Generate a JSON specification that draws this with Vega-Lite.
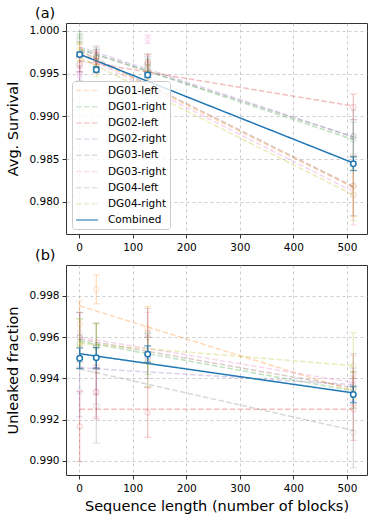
{
  "$schema": "https://vega.github.io/schema/vega-lite/v6.json",
  "padding": {"left": 5, "top": 5, "right": 7, "bottom": 5},
  "bounds": "flush",
  "spacing": 31,
  "config": {
    "font": "DejaVu Sans",
    "view": {"stroke": "#333333", "strokeWidth": 1},
    "title": {"font": "DejaVu Sans", "fontSize": 14.5, "fontWeight": "normal", "anchor": "start", "frame": "group", "color": "#000000"},
    "axis": {
      "labelFont": "DejaVu Sans", "labelFontSize": 10.5, "labelColor": "#000000",
      "titleFont": "DejaVu Sans", "titleFontSize": 14.5, "titleFontWeight": "normal", "titleColor": "#000000",
      "gridColor": "#b0b0b0", "gridDash": [3, 3], "gridOpacity": 0.8, "gridWidth": 0.8,
      "tickColor": "#333333", "tickSize": 4, "domain": false, "labelPadding": 3
    },
    "axisX": {"labelPadding": 4},
    "legend": {
      "fillColor": "rgba(255,255,255,0.8)", "strokeColor": "#cccccc", "cornerRadius": 3,
      "padding": 3, "labelFont": "DejaVu Sans", "labelFontSize": 10.5, "labelColor": "#000000",
      "symbolStrokeWidth": 1.5
    }
  },
  "datasets": {
    "pts": [
      {"p": "a", "s": "DG01-left", "x": 1, "y": 0.9978, "lo": 0.9970, "hi": 0.9986},
      {"p": "a", "s": "DG01-left", "x": 32, "y": 0.9962, "lo": 0.9950, "hi": 0.9974},
      {"p": "a", "s": "DG01-left", "x": 128, "y": 0.9953, "lo": 0.9943, "hi": 0.9963},
      {"p": "a", "s": "DG01-left", "x": 512, "y": 0.9818, "lo": 0.9783, "hi": 0.9853},
      {"p": "a", "s": "DG01-right", "x": 1, "y": 0.9993, "lo": 0.9987, "hi": 0.9999},
      {"p": "a", "s": "DG01-right", "x": 32, "y": 0.9968, "lo": 0.9958, "hi": 0.9978},
      {"p": "a", "s": "DG01-right", "x": 128, "y": 0.9958, "lo": 0.9948, "hi": 0.9968},
      {"p": "a", "s": "DG01-right", "x": 512, "y": 0.9873, "lo": 0.9853, "hi": 0.9893},
      {"p": "a", "s": "DG02-left", "x": 1, "y": 0.9960, "lo": 0.9952, "hi": 0.9968},
      {"p": "a", "s": "DG02-left", "x": 32, "y": 0.9966, "lo": 0.9956, "hi": 0.9976},
      {"p": "a", "s": "DG02-left", "x": 128, "y": 0.9962, "lo": 0.9952, "hi": 0.9972},
      {"p": "a", "s": "DG02-left", "x": 512, "y": 0.9911, "lo": 0.9896, "hi": 0.9926},
      {"p": "a", "s": "DG02-right", "x": 1, "y": 0.9950, "lo": 0.9942, "hi": 0.9958},
      {"p": "a", "s": "DG02-right", "x": 32, "y": 0.9970, "lo": 0.9960, "hi": 0.9980},
      {"p": "a", "s": "DG02-right", "x": 128, "y": 0.9960, "lo": 0.9950, "hi": 0.9970},
      {"p": "a", "s": "DG02-right", "x": 512, "y": 0.9876, "lo": 0.9856, "hi": 0.9896},
      {"p": "a", "s": "DG03-left", "x": 1, "y": 0.9962, "lo": 0.9952, "hi": 0.9972},
      {"p": "a", "s": "DG03-left", "x": 32, "y": 0.9970, "lo": 0.9958, "hi": 0.9982},
      {"p": "a", "s": "DG03-left", "x": 128, "y": 0.9963, "lo": 0.9953, "hi": 0.9973},
      {"p": "a", "s": "DG03-left", "x": 512, "y": 0.9819, "lo": 0.9784, "hi": 0.9854},
      {"p": "a", "s": "DG03-right", "x": 1, "y": 0.9948, "lo": 0.9940, "hi": 0.9956},
      {"p": "a", "s": "DG03-right", "x": 32, "y": 0.9965, "lo": 0.9955, "hi": 0.9975},
      {"p": "a", "s": "DG03-right", "x": 128, "y": 0.9990, "lo": 0.9985, "hi": 0.9995},
      {"p": "a", "s": "DG03-right", "x": 512, "y": 0.9808, "lo": 0.9773, "hi": 0.9843},
      {"p": "a", "s": "DG04-left", "x": 1, "y": 0.9990, "lo": 0.9984, "hi": 0.9996},
      {"p": "a", "s": "DG04-left", "x": 32, "y": 0.9968, "lo": 0.9958, "hi": 0.9978},
      {"p": "a", "s": "DG04-left", "x": 128, "y": 0.9956, "lo": 0.9946, "hi": 0.9966},
      {"p": "a", "s": "DG04-left", "x": 512, "y": 0.9877, "lo": 0.9847, "hi": 0.9907},
      {"p": "a", "s": "DG04-right", "x": 1, "y": 0.9975, "lo": 0.9965, "hi": 0.9985},
      {"p": "a", "s": "DG04-right", "x": 32, "y": 0.9958, "lo": 0.9946, "hi": 0.9970},
      {"p": "a", "s": "DG04-right", "x": 128, "y": 0.9950, "lo": 0.9940, "hi": 0.9960},
      {"p": "a", "s": "DG04-right", "x": 512, "y": 0.9808, "lo": 0.9778, "hi": 0.9838},
      {"p": "a", "s": "Combined", "x": 1, "y": 0.99722, "lo": 0.99697, "hi": 0.99747},
      {"p": "a", "s": "Combined", "x": 32, "y": 0.99545, "lo": 0.99515, "hi": 0.99575},
      {"p": "a", "s": "Combined", "x": 128, "y": 0.99482, "lo": 0.99452, "hi": 0.99512},
      {"p": "a", "s": "Combined", "x": 512, "y": 0.98446, "lo": 0.98366, "hi": 0.98526},
      {"p": "b", "s": "DG01-left", "x": 1, "y": 0.99666, "lo": 0.99556, "hi": 0.99776},
      {"p": "b", "s": "DG01-left", "x": 32, "y": 0.99832, "lo": 0.99762, "hi": 0.99902},
      {"p": "b", "s": "DG01-left", "x": 128, "y": 0.99640, "lo": 0.99530, "hi": 0.99750},
      {"p": "b", "s": "DG01-left", "x": 512, "y": 0.99350, "lo": 0.99270, "hi": 0.99430},
      {"p": "b", "s": "DG01-right", "x": 1, "y": 0.99570, "lo": 0.99450, "hi": 0.99690},
      {"p": "b", "s": "DG01-right", "x": 32, "y": 0.99555, "lo": 0.99445, "hi": 0.99665},
      {"p": "b", "s": "DG01-right", "x": 128, "y": 0.99520, "lo": 0.99420, "hi": 0.99620},
      {"p": "b", "s": "DG01-right", "x": 512, "y": 0.99345, "lo": 0.99255, "hi": 0.99435},
      {"p": "b", "s": "DG02-left", "x": 1, "y": 0.99167, "lo": 0.98997, "hi": 0.99337},
      {"p": "b", "s": "DG02-left", "x": 32, "y": 0.99335, "lo": 0.99205, "hi": 0.99465},
      {"p": "b", "s": "DG02-left", "x": 128, "y": 0.99235, "lo": 0.99115, "hi": 0.99355},
      {"p": "b", "s": "DG02-left", "x": 512, "y": 0.99250, "lo": 0.99100, "hi": 0.99400},
      {"p": "b", "s": "DG02-right", "x": 1, "y": 0.99335, "lo": 0.99215, "hi": 0.99455},
      {"p": "b", "s": "DG02-right", "x": 32, "y": 0.99440, "lo": 0.99320, "hi": 0.99560},
      {"p": "b", "s": "DG02-right", "x": 128, "y": 0.99500, "lo": 0.99400, "hi": 0.99600},
      {"p": "b", "s": "DG02-right", "x": 512, "y": 0.99370, "lo": 0.99290, "hi": 0.99450},
      {"p": "b", "s": "DG03-left", "x": 1, "y": 0.99600, "lo": 0.99480, "hi": 0.99720},
      {"p": "b", "s": "DG03-left", "x": 32, "y": 0.99560, "lo": 0.99450, "hi": 0.99670},
      {"p": "b", "s": "DG03-left", "x": 128, "y": 0.99620, "lo": 0.99500, "hi": 0.99740},
      {"p": "b", "s": "DG03-left", "x": 512, "y": 0.99420, "lo": 0.99320, "hi": 0.99520},
      {"p": "b", "s": "DG03-right", "x": 1, "y": 0.99620, "lo": 0.99520, "hi": 0.99720},
      {"p": "b", "s": "DG03-right", "x": 32, "y": 0.99335, "lo": 0.99215, "hi": 0.99455},
      {"p": "b", "s": "DG03-right", "x": 128, "y": 0.99600, "lo": 0.99480, "hi": 0.99720},
      {"p": "b", "s": "DG03-right", "x": 512, "y": 0.99390, "lo": 0.99270, "hi": 0.99510},
      {"p": "b", "s": "DG04-left", "x": 1, "y": 0.99600, "lo": 0.99480, "hi": 0.99720},
      {"p": "b", "s": "DG04-left", "x": 32, "y": 0.99267, "lo": 0.99087, "hi": 0.99447},
      {"p": "b", "s": "DG04-left", "x": 128, "y": 0.99480, "lo": 0.99360, "hi": 0.99600},
      {"p": "b", "s": "DG04-left", "x": 512, "y": 0.99137, "lo": 0.98967, "hi": 0.99307},
      {"p": "b", "s": "DG04-right", "x": 1, "y": 0.99566, "lo": 0.99446, "hi": 0.99686},
      {"p": "b", "s": "DG04-right", "x": 32, "y": 0.99545, "lo": 0.99425, "hi": 0.99665},
      {"p": "b", "s": "DG04-right", "x": 128, "y": 0.99480, "lo": 0.99360, "hi": 0.99600},
      {"p": "b", "s": "DG04-right", "x": 512, "y": 0.99462, "lo": 0.99302, "hi": 0.99622},
      {"p": "b", "s": "Combined", "x": 1, "y": 0.99498, "lo": 0.99448, "hi": 0.99548},
      {"p": "b", "s": "Combined", "x": 32, "y": 0.99500, "lo": 0.99450, "hi": 0.99550},
      {"p": "b", "s": "Combined", "x": 128, "y": 0.99518, "lo": 0.99478, "hi": 0.99558},
      {"p": "b", "s": "Combined", "x": 512, "y": 0.99322, "lo": 0.99282, "hi": 0.99362}
    ],
    "fit": [
      {"p": "a", "s": "DG01-left", "x": 1, "y": 0.9975}, {"p": "a", "s": "DG01-left", "x": 512, "y": 0.9817},
      {"p": "a", "s": "DG01-right", "x": 1, "y": 0.9979}, {"p": "a", "s": "DG01-right", "x": 512, "y": 0.9873},
      {"p": "a", "s": "DG02-left", "x": 1, "y": 0.99648}, {"p": "a", "s": "DG02-left", "x": 512, "y": 0.9912},
      {"p": "a", "s": "DG02-right", "x": 1, "y": 0.9981}, {"p": "a", "s": "DG02-right", "x": 512, "y": 0.9876},
      {"p": "a", "s": "DG03-left", "x": 1, "y": 0.9977}, {"p": "a", "s": "DG03-left", "x": 512, "y": 0.9818},
      {"p": "a", "s": "DG03-right", "x": 1, "y": 0.9973}, {"p": "a", "s": "DG03-right", "x": 512, "y": 0.9812},
      {"p": "a", "s": "DG04-left", "x": 1, "y": 0.9978}, {"p": "a", "s": "DG04-left", "x": 512, "y": 0.9876},
      {"p": "a", "s": "DG04-right", "x": 1, "y": 0.9969}, {"p": "a", "s": "DG04-right", "x": 512, "y": 0.9808},
      {"p": "a", "s": "Combined", "x": 1, "y": 0.99725}, {"p": "a", "s": "Combined", "x": 512, "y": 0.98455},
      {"p": "b", "s": "DG01-left", "x": 1, "y": 0.99752}, {"p": "b", "s": "DG01-left", "x": 512, "y": 0.9934},
      {"p": "b", "s": "DG01-right", "x": 1, "y": 0.9958}, {"p": "b", "s": "DG01-right", "x": 512, "y": 0.9934},
      {"p": "b", "s": "DG02-left", "x": 1, "y": 0.99251}, {"p": "b", "s": "DG02-left", "x": 512, "y": 0.99251},
      {"p": "b", "s": "DG02-right", "x": 1, "y": 0.99452}, {"p": "b", "s": "DG02-right", "x": 512, "y": 0.9937},
      {"p": "b", "s": "DG03-left", "x": 1, "y": 0.9959}, {"p": "b", "s": "DG03-left", "x": 512, "y": 0.99355},
      {"p": "b", "s": "DG03-right", "x": 1, "y": 0.9960}, {"p": "b", "s": "DG03-right", "x": 512, "y": 0.9938},
      {"p": "b", "s": "DG04-left", "x": 1, "y": 0.99446}, {"p": "b", "s": "DG04-left", "x": 512, "y": 0.99148},
      {"p": "b", "s": "DG04-right", "x": 1, "y": 0.9957}, {"p": "b", "s": "DG04-right", "x": 512, "y": 0.99462},
      {"p": "b", "s": "Combined", "x": 1, "y": 0.9952}, {"p": "b", "s": "Combined", "x": 512, "y": 0.9933}
    ]
  },
  "resolve": {"scale": {"color": "independent", "strokeDash": "independent"}},
  "vconcat": [
    {
      "title": {"text": "(a)", "dx": -31, "offset": 2},
      "width": 301, "height": 211,
      "layer": [
        {
          "data": {"name": "pts"}, "transform": [{"filter": "datum.p == 'a'"}],
          "mark": {"type": "rule", "strokeWidth": 1.2},
          "encoding": {
            "x": {"field": "x", "type": "quantitative", "scale": {"domain": [-24.55, 537.55], "nice": false, "zero": false}, "axis": {"title": null, "values": [0, 100, 200, 300, 400, 500]}},
            "y": {"field": "lo", "type": "quantitative", "scale": {"domain": [0.97625, 1.0009], "nice": false, "zero": false}, "axis": {"title": "Avg. Survival", "values": [0.98, 0.985, 0.99, 0.995, 1.0], "format": ".3f", "titlePadding": 8}},
            "y2": {"field": "hi"},
            "color": {"field": "s", "type": "nominal", "scale": {"domain": ["DG01-left", "DG01-right", "DG02-left", "DG02-right", "DG03-left", "DG03-right", "DG04-left", "DG04-right", "Combined"], "range": ["rgba(255,127,14,0.3)", "rgba(44,160,44,0.3)", "rgba(214,39,40,0.3)", "rgba(148,103,189,0.3)", "rgba(140,86,75,0.3)", "rgba(227,119,194,0.3)", "rgba(127,127,127,0.3)", "rgba(188,189,34,0.3)", "#1f77b4"]}}
          }
        },
        {
          "data": {"name": "pts"}, "transform": [{"filter": "datum.p == 'a'"}],
          "mark": {"type": "tick", "orient": "horizontal", "size": 7, "thickness": 1.2},
          "encoding": {
            "x": {"field": "x", "type": "quantitative"},
            "y": {"field": "lo", "type": "quantitative"},
            "color": {"field": "s", "type": "nominal"}
          }
        },
        {
          "data": {"name": "pts"}, "transform": [{"filter": "datum.p == 'a'"}],
          "mark": {"type": "tick", "orient": "horizontal", "size": 7, "thickness": 1.2},
          "encoding": {
            "x": {"field": "x", "type": "quantitative"},
            "y": {"field": "hi", "type": "quantitative"},
            "color": {"field": "s", "type": "nominal"}
          }
        },
        {
          "data": {"name": "fit"}, "transform": [{"filter": "datum.p == 'a'"}],
          "mark": {"type": "line", "strokeWidth": 1.5},
          "encoding": {
            "x": {"field": "x", "type": "quantitative"},
            "y": {"field": "y", "type": "quantitative"},
            "color": {"field": "s", "type": "nominal", "legend": {"title": null, "orient": "none", "legendX": 6, "legendY": 58, "symbolType": "M-2,0L2,0", "symbolSize": 121, "rowPadding": 4.2, "labelOffset": 14.5, "symbolOffset": 5.5, "symbolStrokeWidth": 1.5}},
            "strokeDash": {"field": "s", "type": "nominal", "legend": {"title": null, "orient": "none", "legendX": 6, "legendY": 58, "symbolType": "M-2,0L2,0", "symbolSize": 121, "rowPadding": 4.2, "labelOffset": 14.5, "symbolOffset": 5.5, "symbolStrokeWidth": 1.5}, "scale": {"domain": ["DG01-left", "DG01-right", "DG02-left", "DG02-right", "DG03-left", "DG03-right", "DG04-left", "DG04-right", "Combined"], "range": [[5.5, 2.4], [5.5, 2.4], [5.5, 2.4], [5.5, 2.4], [5.5, 2.4], [5.5, 2.4], [5.5, 2.4], [5.5, 2.4], [1, 0]]}}
          }
        },
        {
          "data": {"name": "pts"}, "transform": [{"filter": "datum.p == 'a' && datum.s != 'Combined'"}],
          "mark": {"type": "point", "filled": false, "size": 30, "strokeWidth": 1},
          "encoding": {
            "x": {"field": "x", "type": "quantitative"},
            "y": {"field": "y", "type": "quantitative"},
            "color": {"field": "s", "type": "nominal"}
          }
        },
        {
          "data": {"name": "pts"}, "transform": [{"filter": "datum.p == 'a' && datum.s == 'Combined'"}],
          "mark": {"type": "point", "filled": false, "fill": "white", "fillOpacity": 1, "size": 30, "strokeWidth": 1.5, "opacity": 1, "stroke": "#1f77b4"},
          "encoding": {
            "x": {"field": "x", "type": "quantitative"},
            "y": {"field": "y", "type": "quantitative"}
          }
        }
      ]
    },
    {
      "title": {"text": "(b)", "dx": -31, "offset": 2},
      "width": 301, "height": 210,
      "layer": [
        {
          "data": {"name": "pts"}, "transform": [{"filter": "datum.p == 'b'"}],
          "mark": {"type": "rule", "strokeWidth": 1.2},
          "encoding": {
            "x": {"field": "x", "type": "quantitative", "scale": {"domain": [-24.55, 537.55], "nice": false, "zero": false}, "axis": {"title": "Sequence length (number of blocks)", "values": [0, 100, 200, 300, 400, 500], "titlePadding": 6}},
            "y": {"field": "lo", "type": "quantitative", "scale": {"domain": [0.98932, 0.9995], "nice": false, "zero": false}, "axis": {"title": "Unleaked fraction", "values": [0.99, 0.992, 0.994, 0.996, 0.998], "format": ".3f", "titlePadding": 8}},
            "y2": {"field": "hi"},
            "color": {"field": "s", "type": "nominal", "legend": null, "scale": {"domain": ["DG01-left", "DG01-right", "DG02-left", "DG02-right", "DG03-left", "DG03-right", "DG04-left", "DG04-right", "Combined"], "range": ["rgba(255,127,14,0.3)", "rgba(44,160,44,0.3)", "rgba(214,39,40,0.3)", "rgba(148,103,189,0.3)", "rgba(140,86,75,0.3)", "rgba(227,119,194,0.3)", "rgba(127,127,127,0.3)", "rgba(188,189,34,0.3)", "#1f77b4"]}}
          }
        },
        {
          "data": {"name": "pts"}, "transform": [{"filter": "datum.p == 'b'"}],
          "mark": {"type": "tick", "orient": "horizontal", "size": 7, "thickness": 1.2},
          "encoding": {
            "x": {"field": "x", "type": "quantitative"},
            "y": {"field": "lo", "type": "quantitative"},
            "color": {"field": "s", "type": "nominal", "legend": null}
          }
        },
        {
          "data": {"name": "pts"}, "transform": [{"filter": "datum.p == 'b'"}],
          "mark": {"type": "tick", "orient": "horizontal", "size": 7, "thickness": 1.2},
          "encoding": {
            "x": {"field": "x", "type": "quantitative"},
            "y": {"field": "hi", "type": "quantitative"},
            "color": {"field": "s", "type": "nominal", "legend": null}
          }
        },
        {
          "data": {"name": "fit"}, "transform": [{"filter": "datum.p == 'b'"}],
          "mark": {"type": "line", "strokeWidth": 1.5},
          "encoding": {
            "x": {"field": "x", "type": "quantitative"},
            "y": {"field": "y", "type": "quantitative"},
            "color": {"field": "s", "type": "nominal", "legend": null},
            "strokeDash": {"field": "s", "type": "nominal", "legend": null, "scale": {"domain": ["DG01-left", "DG01-right", "DG02-left", "DG02-right", "DG03-left", "DG03-right", "DG04-left", "DG04-right", "Combined"], "range": [[5.5, 2.4], [5.5, 2.4], [5.5, 2.4], [5.5, 2.4], [5.5, 2.4], [5.5, 2.4], [5.5, 2.4], [5.5, 2.4], [1, 0]]}}
          }
        },
        {
          "data": {"name": "pts"}, "transform": [{"filter": "datum.p == 'b' && datum.s != 'Combined'"}],
          "mark": {"type": "point", "filled": false, "size": 30, "strokeWidth": 1},
          "encoding": {
            "x": {"field": "x", "type": "quantitative"},
            "y": {"field": "y", "type": "quantitative"},
            "color": {"field": "s", "type": "nominal", "legend": null}
          }
        },
        {
          "data": {"name": "pts"}, "transform": [{"filter": "datum.p == 'b' && datum.s == 'Combined'"}],
          "mark": {"type": "point", "filled": false, "fill": "white", "fillOpacity": 1, "size": 30, "strokeWidth": 1.5, "opacity": 1, "stroke": "#1f77b4"},
          "encoding": {
            "x": {"field": "x", "type": "quantitative"},
            "y": {"field": "y", "type": "quantitative"}
          }
        }
      ]
    }
  ]
}
